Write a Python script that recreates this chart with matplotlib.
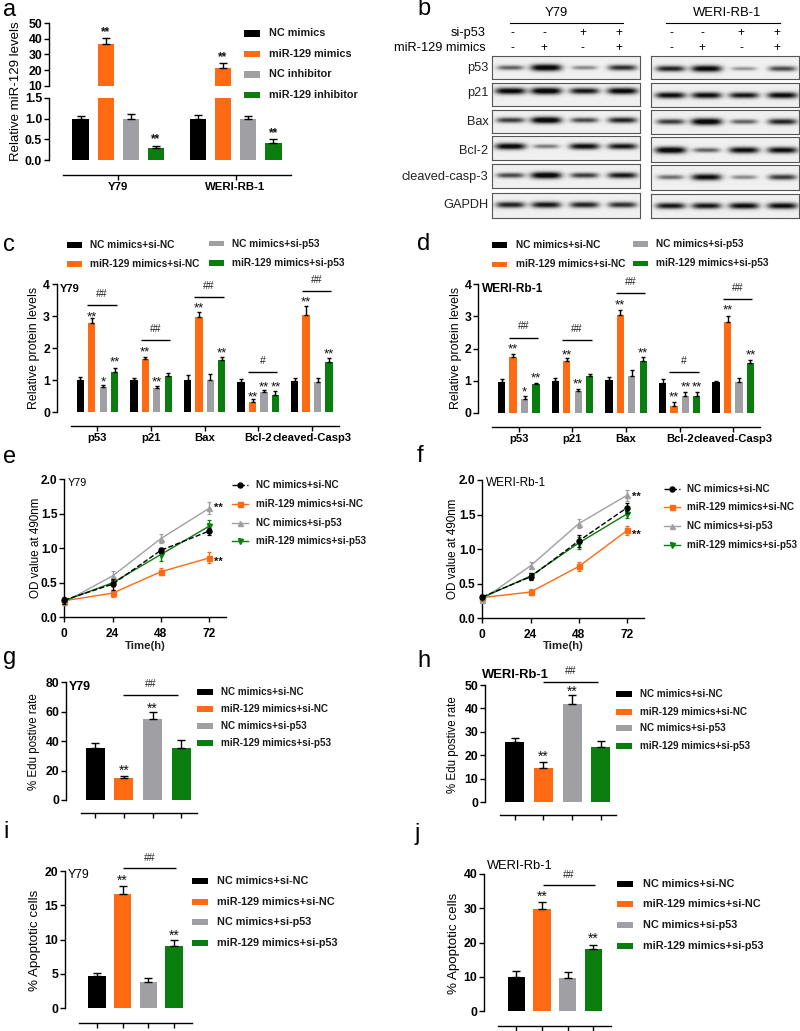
import numpy as np
import matplotlib
matplotlib.use('Agg')
import matplotlib.pyplot as plt
from matplotlib.patches import Rectangle

plt.rcParams['font.family'] = ['Liberation Sans', 'DejaVu Sans']

W, H = 800, 1031
BLACK, ORANGE, GREY, GREEN = '#000000', '#FF6A13', '#A0A0A4', '#0A7D0F'
COLORS = [BLACK, ORANGE, GREY, GREEN]

# legend labels
A_LABELS = ['NC mimics', 'miR-129 mimics', 'NC inhibitor', 'miR-129 inhibitor']
TREATMENTS = ['NC mimics+si-NC', 'miR-129 mimics+si-NC', 'NC mimics+si-p53', 'miR-129 mimics+si-p53']
PROTEINS = ['p53', 'p21', 'Bax', 'Bcl-2', 'cleaved-Casp3']

# panel a
A_GROUPS = ['Y79', 'WERI-RB-1']
A_VALUES = [1.0, 36.7, 1.0, 0.30, 1.0, 21.6, 1.0, 0.42]
A_TOPS = [1.07, 40.3, 1.10, 0.34, 1.08, 24.8, 1.06, 0.50]

# panels c, d: one row per protein, bars then top of the error bar
C_VALUES = [[1.00, 2.80, 0.78, 1.27], [1.00, 1.65, 0.77, 1.13], [1.00, 2.97, 1.02, 1.62],
            [0.95, 0.32, 0.63, 0.53], [0.99, 3.04, 0.96, 1.56]]
C_TOPS = [[1.09, 2.94, 0.85, 1.37], [1.06, 1.72, 0.82, 1.24], [1.15, 3.14, 1.19, 1.74],
          [1.03, 0.41, 0.70, 0.67], [1.06, 3.32, 1.08, 1.69]]
C_STARS = [(0, 1, '**', 3.12), (0, 2, '*', 1.09), (0, 3, '**', 1.69), (1, 1, '**', 2.01), (1, 2, '**', 1.08),
           (2, 1, '**', 3.40), (2, 3, '**', 2.00), (3, 1, '**', 0.62), (3, 2, '**', 0.93), (3, 3, '**', 0.93),
           (4, 1, '**', 3.58), (4, 3, '**', 1.94)]
C_BRACKETS = [(0, '##', 3.35), (1, '##', 2.26), (2, '##', 3.60), (3, '#', 1.27), (4, '##', 3.80)]

D_VALUES = [[0.97, 1.72, 0.43, 0.90], [1.00, 1.60, 0.68, 1.13], [1.02, 3.03, 1.15, 1.62],
            [0.94, 0.22, 0.52, 0.53], [0.95, 2.83, 0.97, 1.55]]
D_TOPS = [[1.05, 1.82, 0.53, 0.93], [1.07, 1.70, 0.74, 1.22], [1.10, 3.20, 1.32, 1.75],
          [1.04, 0.32, 0.66, 0.66], [1.00, 3.02, 1.07, 1.63]]
D_STARS = [(0, 1, '**', 2.13), (0, 2, '*', 0.79), (0, 3, '**', 1.22), (1, 1, '**', 1.94), (1, 2, '**', 1.02),
           (2, 1, '**', 3.50), (2, 3, '**', 2.00), (3, 1, '**', 0.63), (3, 2, '**', 0.93), (3, 3, '**', 0.93),
           (4, 1, '**', 3.32), (4, 3, '**', 1.92)]
D_BRACKETS = [(0, '##', 2.34), (1, '##', 2.25), (2, '##', 3.73), (3, '#', 1.26), (4, '##', 3.53)]

# panels e, f
HOURS = [0, 24, 48, 72]
E_MEANS = [[0.25, 0.48, 0.97, 1.25], [0.24, 0.35, 0.66, 0.86], [0.22, 0.60, 1.14, 1.58], [0.24, 0.50, 0.91, 1.32]]
E_ERRS = [[0.05, 0.08, 0.04, 0.05], [0.03, 0.05, 0.05, 0.08], [0.04, 0.07, 0.07, 0.09], [0.03, 0.05, 0.10, 0.09]]
F_MEANS = [[0.31, 0.60, 1.12, 1.60], [0.30, 0.38, 0.75, 1.27], [0.27, 0.76, 1.37, 1.78], [0.30, 0.61, 1.09, 1.51]]
F_ERRS = [[0.03, 0.05, 0.09, 0.07], [0.03, 0.05, 0.06, 0.07], [0.03, 0.05, 0.07, 0.08], [0.03, 0.04, 0.09, 0.06]]

# panels g-j
G_VALUES, G_TOPS = [35.6, 14.7, 55.3, 35.4], [39.0, 16.3, 59.6, 40.8]
H_VALUES, H_TOPS = [25.6, 14.6, 42.0, 23.6], [27.6, 17.2, 45.7, 26.3]
I_VALUES, I_TOPS = [4.76, 16.6, 3.83, 9.08], [5.2, 17.8, 4.4, 9.95]
J_VALUES, J_TOPS = [9.93, 29.7, 9.7, 18.2], [11.8, 31.8, 11.3, 19.3]

# panel b, band strength per lane
BLOT_ROWS = ['p53', 'p21', 'Bax', 'Bcl-2', 'cleaved-casp-3', 'GAPDH']
Y79_BANDS = [[0.55, 1.0, 0.40, 0.75], [0.95, 1.0, 0.85, 0.95], [0.70, 1.0, 0.65, 0.80],
             [0.95, 0.45, 0.90, 0.85], [0.65, 1.0, 0.70, 0.85], [0.80, 0.85, 0.80, 0.75]]
WERI_BANDS = [[0.80, 0.95, 0.35, 0.65], [0.90, 0.90, 0.85, 0.92], [0.70, 1.0, 0.55, 0.80],
              [1.0, 0.55, 0.90, 0.90], [0.50, 0.90, 0.40, 0.70], [0.85, 0.85, 0.90, 0.90]]
SI_P53 = ['-', '-', '+', '+']
MIMICS = ['-', '+', '-', '+']

fig = plt.figure(figsize=(W / 100, H / 100), dpi=100)
PX = 0.72  # points per pixel


def px_axes(x0, x1, ytop, ybot):
    ax = fig.add_axes([x0 / W, 1 - ybot / H, (x1 - x0) / W, (ybot - ytop) / H])
    ax.patch.set_alpha(0)
    for s in ['top', 'right']:
        ax.spines[s].set_visible(False)
    for s in ['left', 'bottom']:
        ax.spines[s].set_linewidth(1.0)
    ax.tick_params(width=1.0, length=3.4, labelsize=8.6, pad=1.5)
    return ax


def style_bottom(ax, start_px, end_px, c0, dx, axis_y, line_y, ticks, labels, size=8.1):
    ax.spines['bottom'].set_position(('outward', (line_y - axis_y) * PX))
    ax.spines['bottom'].set_bounds((start_px - c0) / dx, (end_px - c0) / dx)
    ax.set_xticks(ticks)
    ax.set_xticklabels(labels, fontsize=size, fontweight='bold')


def stars(ax, x, y, s, fs=9.5, weight='normal'):
    ax.annotate(s, (x, y), xytext=(0, -0.58 * fs), textcoords='offset points', ha='center',
                va='baseline', fontsize=fs, fontweight=weight, annotation_clip=False, color='#111111')


def bracket(ax, x0, x1, y, s, label_dy, fs=7.5):
    ax.plot([x0, x1], [y, y], color='black', lw=1.0, clip_on=False, solid_capstyle='butt')
    ax.annotate(s, ((x0 + x1) / 2, y), xytext=(0, label_dy), textcoords='offset points', ha='center',
                va='center', fontsize=fs, annotation_clip=False, color='#222222')


def upper_err(ax, xs, vals, tops, capsize=2.6):
    err = np.array(tops) - np.array(vals)
    ax.errorbar(xs, vals, yerr=[np.zeros(len(err)), err], fmt='none', ecolor='black',
                elinewidth=1.0, capsize=capsize, capthick=1.0, clip_on=False)


# overlay in pixel coordinates for panel letters, legends and free labels
over = fig.add_axes([0, 0, 1, 1], zorder=10)
over.set_xlim(0, W)
over.set_ylim(H, 0)
over.axis('off')


def bar_legend(x0, x1, tx, ys, labels, h=6.0, fs=7.8):
    for i, (y, lab) in enumerate(zip(ys, labels)):
        over.add_patch(Rectangle((x0, y - h / 2), x1 - x0, h, color=COLORS[i], lw=0))
        over.text(tx, y, lab, fontsize=fs, fontweight='bold', va='center', ha='left', color='#1a1a1a')


for s, x, y in [('a', 3, 10), ('b', 417, 9), ('c', 3, 245), ('d', 417, 244), ('e', 3, 457), ('f', 417, 456),
                ('g', 3, 658), ('h', 417, 661), ('i', 3, 832), ('j', 415, 834)]:
    over.text(x, y, s, fontsize=17, va='center', ha='left')


# panel a
c0, dx = 80.7, 25.1
xlim_a = ((49 - c0) / dx, (291 - c0) / dx)
xs_a = np.array([0, 1, 2, 3, 4.67, 5.67, 6.67, 7.67])
low = px_axes(49, 291, 97.7, 160.3)
low.set_xlim(xlim_a)
low.set_ylim(0, 1.5)
low.bar(xs_a, np.minimum(A_VALUES, 1.6), width=0.66, color=COLORS * 2)
low_errs = [i for i in range(8) if A_VALUES[i] < 2]
upper_err(low, xs_a[low_errs], np.array(A_VALUES)[low_errs], np.array(A_TOPS)[low_errs], capsize=2.8)
low.set_yticks([0, 0.5, 1.0, 1.5])
low.set_yticklabels(['0.0', '0.5', '1.0', '1.5'], fontweight='bold', fontsize=8.8)
style_bottom(low, 63, 291, c0, dx, 160.3, 175, [1.5, 6.17], A_GROUPS, size=8.2)
stars(low, 3, 0.59, '**', 8.5, 'bold')
stars(low, 7.67, 0.75, '**', 8.5, 'bold')

upp = px_axes(49, 291, 23, 86)
upp.set_xlim(xlim_a)
upp.set_ylim(10, 50)
upp.bar(xs_a, A_VALUES, width=0.66, color=COLORS * 2)
high_errs = [i for i in range(8) if A_VALUES[i] >= 2]
upper_err(upp, xs_a[high_errs], np.array(A_VALUES)[high_errs], np.array(A_TOPS)[high_errs], capsize=2.8)
upp.set_yticks([10, 20, 30, 40, 50])
upp.set_yticklabels(['10', '20', '30', '40', '50'], fontweight='bold', fontsize=8.8)
upp.spines['bottom'].set_visible(False)
upp.set_xticks([])
stars(upp, 1, 46.6, '**', 8.5, 'bold')
stars(upp, 5.67, 31, '**', 8.5, 'bold')
over.text(16, 91.5, 'Relative miR-129 levels', rotation=90, fontsize=9.5, va='center', ha='center')
bar_legend(244, 260, 268.7, [33.3, 54, 74.3, 95], A_LABELS, h=6.4, fs=7.85)


# panels c, d
def protein_panel(x0, x1, ytop, ybot, c0, line_start, line_y, values, tops, star_list, brackets, label_x, label, lab_size, ylab_x):
    dx, gap = 11.43, 53.6 / 11.43
    ax = px_axes(x0, x1, ytop, ybot)
    ax.set_xlim((x0 - c0) / dx, (x1 - c0) / dx)
    ax.set_ylim(0, 4)
    for g, (vals, tp) in enumerate(zip(values, tops)):
        xs = g * gap + np.arange(4)
        ax.bar(xs, vals, width=0.64, color=COLORS)
        upper_err(ax, xs, vals, tp, capsize=1.6)
    for g, b, s, y in star_list:
        stars(ax, g * gap + b, y, s)
    for g, s, y in brackets:
        bracket(ax, g * gap + 0.61, g * gap + 3.18, y, s, 8.0)
    ax.set_yticks([0, 1, 2, 3, 4])
    ax.set_yticklabels(['0', '1', '2', '3', '4'], fontweight='bold', fontsize=8.8)
    style_bottom(ax, line_start, x1, c0, dx, ybot, line_y, [g * gap + 1.5 for g in range(5)], PROTEINS)
    over.text(ylab_x, 348, 'Relative protein levels', rotation=90, fontsize=8.9, va='center', ha='center')
    over.text(label_x, 289.5, label, fontsize=lab_size, fontweight='bold', va='center', ha='left')


protein_panel(56.7, 338.7, 284.3, 412.3, 80.3, 70.7, 426, C_VALUES, C_TOPS, C_STARS, C_BRACKETS, 59.5, 'Y79', 8.0, 34)
protein_panel(478.3, 760, 284.3, 412.7, 501.7, 492, 426.7, D_VALUES, D_TOPS, D_STARS, D_BRACKETS, 482, 'WERI-Rb-1', 8.6, 456.5)
for x0, x1, tx, ys, order in [(66.7, 81.7, 90, [245, 263.7], [0, 1]), (208.5, 223.5, 231.7, [243.7, 262.7], [2, 3]),
                              (492, 507.3, 515.7, [245, 264.3], [0, 1]), (633, 648.3, 656, [244, 263.3], [2, 3])]:
    for y, i in zip(ys, order):
        over.add_patch(Rectangle((x0, y - 2.8), x1 - x0, 5.6, color=COLORS[i], lw=0))
        over.text(tx, y, TREATMENTS[i], fontsize=7.3, fontweight='bold', va='center', ha='left', color='#1a1a1a')


# panels e, f
LINE_STYLE = [('o', '--'), ('s', '-'), ('^', '-'), ('v', '-')]


def od_panel(x0, x1, ytop, ybot, means, errs, star_vals, star_x, label, label_x, label_size, ylab_x, time_x, leg_x, leg_tx, leg_ys, right_units):
    ax = px_axes(x0, x1, ytop, ybot)
    ax.set_xlim(0, right_units)
    ax.set_ylim(0, 2)
    for i, (m, e) in enumerate(zip(means, errs)):
        mk, ls = LINE_STYLE[i]
        ax.errorbar(HOURS, m, yerr=e, color=COLORS[i], marker=mk, ms=3.6, ls=ls, lw=1.0, elinewidth=1.0,
                    capsize=1.6, capthick=0.9, clip_on=False, zorder=5 if i == 0 else 3)
    ax.set_xticks(HOURS)
    ax.set_xticklabels(HOURS, fontweight='bold', fontsize=8.6)
    ax.set_yticks([0, 0.5, 1.0, 1.5, 2.0])
    ax.set_yticklabels(['0.0', '0.5', '1.0', '1.5', '2.0'], fontweight='bold', fontsize=8.6)
    ax.tick_params(pad=4, axis='x')
    for v in star_vals:
        stars(ax, star_x, v, '**', 8.0, 'bold')
    over.text(ylab_x, (ytop + ybot) / 2 - 0.5, 'OD value at 490nm', rotation=90, fontsize=8.4, va='center', ha='center')
    over.text(time_x, 645.7, 'Time(h)', fontsize=8.2, fontweight='bold', va='center', ha='center', color='#222222')
    over.text(label_x, ytop + 3.5, label, fontsize=label_size, va='center', ha='left')
    for i, y in enumerate(leg_ys):
        mk, ls = LINE_STYLE[i]
        over.plot([leg_x, leg_x + 16], [y, y], color=COLORS[i], ls=ls, lw=1.0)
        over.plot([leg_x + 8], [y], color=COLORS[i], marker=mk, ms=3.6, ls='none')
        over.text(leg_tx, y, TREATMENTS[i], fontsize=7.1, fontweight='bold', va='center', ha='left', color='#1a1a1a')


od_panel(64.3, 226, 479.3, 617.3, E_MEANS, E_ERRS, [1.64, 0.86], 76.5, 'Y79', 68, 7.8, 35.7, 145, 232, 256,
         [485.3, 504.3, 522.7, 541], 80.4)
od_panel(482.3, 644, 480, 618.3, F_MEANS, F_ERRS, [1.80, 1.26], 76.5, 'WERI-Rb-1', 486, 8.5, 453.3, 563, 664.3, 686.7,
         [489, 507.3, 526.3, 545], 80.4)


# panels g-j
def simple_bars(x0, x1, ytop, ybot, c0, dx, w, line_start, line_y, ymax, ticks, values, tops, star_list, bk, label, label_xy, lab_weight, lab_size, ylab, ylab_x, ylab_size, leg, leg_size):
    ax = px_axes(x0, x1, ytop, ybot)
    ax.set_xlim((x0 - c0) / dx, (x1 - c0) / dx)
    ax.set_ylim(0, ymax)
    xs = np.arange(4)
    ax.bar(xs, values, width=w / dx, color=COLORS)
    upper_err(ax, xs, values, tops, capsize=3.2)
    for b, y in star_list:
        stars(ax, b, y, '**', 10.0, 'normal')
    bracket(ax, bk[0], bk[1], bk[2], bk[3], 7.5)
    ax.set_yticks(ticks)
    ax.set_yticklabels(ticks, fontweight='bold', fontsize=8.8)
    style_bottom(ax, line_start, x1, c0, dx, ybot, line_y, xs, [''] * 4)
    over.text(ylab_x, (ytop + ybot) / 2 + 0.5, ylab, rotation=90, fontsize=ylab_size, va='center', ha='center')
    over.text(label_xy[0], label_xy[1], label, fontsize=lab_size, fontweight=lab_weight, va='center', ha='left')
    bar_legend(leg[0], leg[1], leg[2], leg[3], TREATMENTS, fs=leg_size)


simple_bars(66, 196.7, 682.3, 800, 95.3, 28.67, 19, 80.7, 813.3, 80, [0, 20, 40, 60, 80], G_VALUES, G_TOPS,
            [(1, 22.7), (2, 65)], (0.98, 2.9, 71.6, '##'), 'Y79', (69, 686.7), 'bold', 9.0, '% Edu postive rate', 34.3, 8.3,
            (196.7, 212.7, 220.7, [691.7, 709, 726, 743]), 7.15)
simple_bars(485, 615.7, 685, 802.3, 514.7, 28.67, 19, 500, 815.3, 50, [0, 10, 20, 30, 40, 50], H_VALUES, H_TOPS,
            [(1, 21.2), (2, 49)], (0.98, 2.9, 51.4, '##'), 'WERI-Rb-1', (482.3, 675), 'bold', 9.4, '% Edu postive rate', 453.3, 8.3,
            (616, 632, 640, [694.3, 711.7, 728.3, 746]), 7.15)
simple_bars(65, 191.7, 871, 1008.3, 97, 25.67, 17.3, 79, 1023, 20, [0, 5, 10, 15, 20], I_VALUES, I_TOPS,
            [(1, 19.2), (3, 11.1)], (1.03, 3.07, 20.4, '##'), 'Y79', (68, 875), 'normal', 8.8, '% Apoptotic cells', 35, 9.6,
            (192, 208, 217.3, [881.3, 902, 922.3, 943]), 7.8)
simple_bars(484, 611, 874, 1011, 516.3, 25.67, 17.3, 498.3, 1025.7, 40, [0, 10, 20, 30, 40], J_VALUES, J_TOPS,
            [(1, 34.5), (3, 22.4)], (1.03, 3.07, 36.8, '##'), 'WERI-Rb-1', (487, 866), 'normal', 9.3, '% Apoptotic cells', 454, 9.6,
            (617.3, 633.3, 643, [884, 904.3, 925, 945.7]), 7.8)


# panel b, blots rebuilt from the band strengths
def blot(x0, x1, y0, y1, bands, lanes_px, band_y_px):
    ax = fig.add_axes([x0 / W, 1 - y1 / H, (x1 - x0) / W, (y1 - y0) / H])
    ny, nx = int(round(y1 - y0)) * 2, int(round(x1 - x0)) * 2
    xx = np.linspace(x0, x1, nx)[None, :]
    yy = np.linspace(y0, y1, ny)[:, None]
    dark = np.zeros((ny, nx))
    for lane, a in zip(lanes_px, bands):
        half_w = 15.5 * (0.7 + 0.3 * a)
        sigma = 1.2 + 2.2 * a
        dark += a * np.exp(-((xx - lane) / half_w) ** 4) * np.exp(-((yy - band_y_px) / sigma) ** 2)
    ax.imshow(0.94 - 0.9 * np.clip(dark * 1.15, 0, 1), cmap='gray', vmin=0, vmax=1, aspect='auto')
    ax.set_xticks([])
    ax.set_yticks([])
    for s in ax.spines.values():
        s.set_linewidth(0.8)
        s.set_color('#555555')


LEFT_LANES = [510, 545.7, 584, 622]
RIGHT_LANES = [670, 706, 743.3, 781.7]
LEFT_BOXES = [(168, 238), (249, 319), (329, 400), (409, 481), (493, 565), (580, 655)]
RIGHT_BOXES = [(168, 238), (248, 320), (330, 403), (410, 487), (495, 570), (582, 653)]
LEFT_Y = [205, 275, 362, 440, 527, 617]
RIGHT_Y = [208, 285, 367, 452, 533, 617]
for i in range(6):
    blot(491.7, 640.3, LEFT_BOXES[i][0] / 3, LEFT_BOXES[i][1] / 3, Y79_BANDS[i], LEFT_LANES, LEFT_Y[i] / 3)
    blot(650.7, 799, RIGHT_BOXES[i][0] / 3, RIGHT_BOXES[i][1] / 3, WERI_BANDS[i], RIGHT_LANES, RIGHT_Y[i] / 3)
for row, y in zip(BLOT_ROWS, [205, 278, 367, 452, 530, 615]):
    over.text(488.3, y / 3, row, fontsize=9.2, va='center', ha='right', color='#222222')
over.text(556.7, 13.3, 'Y79', fontsize=9.4, va='center', ha='center')
over.text(726.7, 13.3, 'WERI-RB-1', fontsize=9.4, va='center', ha='center')
over.plot([510, 623.3], [23.3, 23.3], color='black', lw=0.8)
over.plot([665.7, 780], [23.3, 23.3], color='black', lw=0.8)
over.text(485.7, 32.7, 'si-p53', fontsize=9.2, va='center', ha='right')
over.text(485.7, 48.3, 'miR-129 mimics', fontsize=9.2, va='center', ha='right')
for lanes in ([512.7, 544.3, 582.7, 619], [671, 702.3, 741.3, 777.3]):
    for x, a, b in zip(lanes, SI_P53, MIMICS):
        over.text(x, 33.3, a, fontsize=8.5, va='center', ha='center')
        over.text(x, 48.3, b, fontsize=8.5, va='center', ha='center')

fig.savefig('out.png', dpi=100)
